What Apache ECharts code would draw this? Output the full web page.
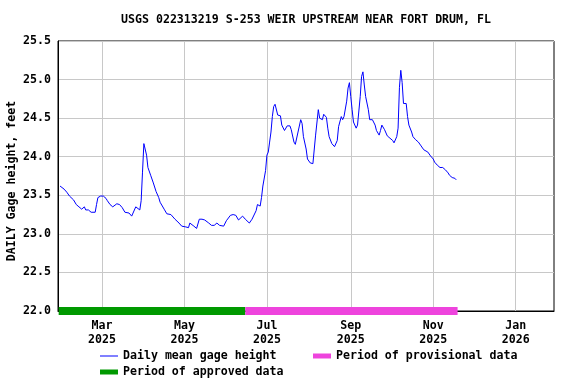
<!DOCTYPE html>
<html><head><meta charset="utf-8">
<script src="https://cdn.jsdelivr.net/npm/echarts@6/dist/echarts.min.js"></script>
<style>html,body{margin:0;padding:0;background:#fff}#c{width:576px;height:384px}</style>
</head><body><div id="c"></div>
<script>
const titleText = 'USGS 022313219 S-253 WEIR UPSTREAM NEAR FORT DRUM, FL';
const yAxisName = 'DAILY Gage height, feet';
const dates = ['2025-01-29','2025-02-01','2025-02-03','2025-02-05','2025-02-08','2025-02-10','2025-02-12','2025-02-14','2025-02-16','2025-02-17','2025-02-19','2025-02-21','2025-02-24','2025-02-25','2025-02-26','2025-02-28',
'2025-03-02','2025-03-04','2025-03-05','2025-03-07','2025-03-09','2025-03-12','2025-03-14','2025-03-16','2025-03-18','2025-03-21','2025-03-23','2025-03-26','2025-03-27','2025-03-29','2025-03-30','2025-03-31',
'2025-04-01','2025-04-02','2025-04-03','2025-04-04','2025-04-06','2025-04-08','2025-04-10','2025-04-12','2025-04-13','2025-04-16','2025-04-18','2025-04-21','2025-04-22','2025-04-24','2025-04-27','2025-04-29',
'2025-05-02','2025-05-04','2025-05-05','2025-05-08','2025-05-10','2025-05-12','2025-05-14','2025-05-16','2025-05-19','2025-05-21','2025-05-23','2025-05-25','2025-05-27','2025-05-30',
'2025-06-01','2025-06-04','2025-06-06','2025-06-08','2025-06-10','2025-06-13','2025-06-15','2025-06-18','2025-06-20','2025-06-23','2025-06-24','2025-06-26','2025-06-27','2025-06-28','2025-06-30',
'2025-07-01','2025-07-02','2025-07-03','2025-07-04','2025-07-05','2025-07-06','2025-07-07','2025-07-09','2025-07-11','2025-07-12','2025-07-14','2025-07-16','2025-07-18','2025-07-19','2025-07-21','2025-07-22','2025-07-24','2025-07-26','2025-07-27','2025-07-28','2025-07-30','2025-07-31',
'2025-08-02','2025-08-04','2025-08-05','2025-08-06','2025-08-08','2025-08-09','2025-08-11','2025-08-12','2025-08-14','2025-08-15','2025-08-16','2025-08-18','2025-08-20','2025-08-22','2025-08-23','2025-08-25','2025-08-26','2025-08-27','2025-08-29','2025-08-30','2025-08-31',
'2025-09-01','2025-09-02','2025-09-03','2025-09-05','2025-09-06','2025-09-07','2025-09-08','2025-09-09','2025-09-10','2025-09-11','2025-09-12','2025-09-14','2025-09-15','2025-09-17','2025-09-19','2025-09-20','2025-09-22','2025-09-23','2025-09-24','2025-09-26','2025-09-28','2025-09-30',
'2025-10-02','2025-10-03','2025-10-05','2025-10-06','2025-10-07','2025-10-08','2025-10-09','2025-10-10','2025-10-12','2025-10-13','2025-10-14','2025-10-16','2025-10-17','2025-10-19','2025-10-21','2025-10-23','2025-10-25','2025-10-26','2025-10-28','2025-10-30',
'2025-11-01','2025-11-02','2025-11-04','2025-11-06','2025-11-08','2025-11-10','2025-11-12','2025-11-13','2025-11-15','2025-11-17','2025-11-18'];
const heights = [23.62,23.58,23.54,23.49,23.44,23.38,23.35,23.32,23.35,23.31,23.31,23.28,23.28,23.38,23.47,23.49,
23.49,23.46,23.43,23.38,23.35,23.39,23.38,23.34,23.28,23.27,23.23,23.35,23.34,23.31,23.43,23.80,
24.17,24.15,24.02,23.86,23.76,23.66,23.55,23.47,23.41,23.32,23.26,23.25,23.23,23.19,23.14,23.10,
23.09,23.08,23.14,23.10,23.07,23.19,23.19,23.18,23.14,23.11,23.11,23.14,23.11,23.10,
23.17,23.24,23.25,23.24,23.18,23.23,23.19,23.14,23.19,23.30,23.38,23.36,23.47,23.62,23.82,
24.02,24.06,24.19,24.32,24.52,24.65,24.68,24.54,24.53,24.41,24.34,24.40,24.40,24.35,24.19,24.16,24.32,24.48,24.43,24.26,24.10,23.97,
23.92,23.91,23.91,24.28,24.61,24.50,24.48,24.55,24.51,24.37,24.26,24.17,24.13,24.21,24.39,24.52,24.48,24.52,24.72,24.89,24.96,
24.78,24.61,24.45,24.37,24.41,24.43,24.78,25.04,25.10,24.93,24.78,24.61,24.48,24.48,24.41,24.34,24.28,24.34,24.41,24.35,24.27,24.24,
24.21,24.18,24.26,24.37,24.90,25.12,24.96,24.69,24.69,24.52,24.41,24.32,24.26,24.22,24.19,24.14,24.09,24.07,24.06,24.01,
23.97,23.93,23.89,23.86,23.86,23.83,23.79,23.76,23.73,23.72,23.70];
const approvedPeriod = ['2025-01-28','2025-06-15'];
const provisionalPeriod = ['2025-06-15','2025-11-19'];
const periodLevel = 22.0;
const tickDates = ['2025-03-01','2025-05-01','2025-07-01','2025-09-01','2025-11-01','2026-01-01'];
const monthNames = ['Jan','Feb','Mar','Apr','May','Jun','Jul','Aug','Sep','Oct','Nov','Dec'];
const yMin = 22.0, yMax = 25.5, yStep = 0.5;

function ts(s){ const p = s.split('-').map(Number); return new Date(p[0], p[1]-1, p[2]).getTime(); }
const DAY = 86400000;
const xMin = ts('2025-03-01') - 32.5*DAY;
const xMax = ts('2026-01-01') + 28.3*DAY;
const FONT = 'DejaVu Sans Mono';
const txt = {color:'#000', fontFamily: FONT, fontWeight:'bold', fontSize: 11.6};
const tickTs = tickDates.map(ts);

const chart = echarts.init(document.getElementById('c'), null, {renderer:'canvas'});
chart.setOption({
  animation: false,
  backgroundColor: '#fff',
  title: {text: titleText, left: 306, top: 14, textAlign: 'center', padding: 0,
    textStyle: Object.assign({}, txt)},
  grid: {left: 58, right: 22, top: 41, bottom: 73, outerBoundsMode: 'none', containLabel: false,
    show: true, borderColor: '#000', borderWidth: 1, backgroundColor: 'transparent'},
  xAxis: {
    type: 'value', min: xMin, max: xMax, scale: true,
    axisLine: {show: true, onZero: false, lineStyle: {color: '#000', width: 1}},
    axisTick: {show: false, customValues: tickTs},
    axisLabel: Object.assign({}, txt, {customValues: tickTs, margin: 8, lineHeight: 14,
      formatter: v => { const d = new Date(v); return monthNames[d.getMonth()] + '\n' + d.getFullYear(); }}),
    splitLine: {show: true, lineStyle: {color: '#c8c8c8', width: 1}}
  },
  yAxis: {
    type: 'value', min: yMin, max: yMax, interval: yStep,
    name: yAxisName, nameLocation: 'middle', nameGap: 40, nameMoveOverlap: false,
    nameTextStyle: Object.assign({}, txt, {padding: [0, 10, 0, 0]}),
    axisLine: {show: true, lineStyle: {color: '#000', width: 1}},
    axisTick: {show: false},
    axisLabel: Object.assign({}, txt, {margin: 7, formatter: v => v.toFixed(1)}),
    splitLine: {show: true, lineStyle: {color: '#c8c8c8', width: 1}}
  },
  legend: [
    {left: 100, top: 350, padding: 0, itemWidth: 18, itemHeight: 1, textStyle: txt, data: [{name: 'Daily mean gage height', icon: 'rect'}], selectedMode: false},
    {left: 313, top: 350, padding: 0, itemWidth: 18, itemHeight: 5, textStyle: txt, data: [{name: 'Period of provisional data', icon: 'rect'}], selectedMode: false},
    {left: 100, top: 366, padding: 0, itemWidth: 18, itemHeight: 5, textStyle: txt, data: [{name: 'Period of approved data', icon: 'rect'}], selectedMode: false}
  ],
  series: [
    {name: 'Daily mean gage height', type: 'line', data: dates.map((d, i) => [ts(d), heights[i]]),
      symbol: 'none', showSymbol: false, color: '#0000ff', lineStyle: {color: '#0000ff', width: 1}, z: 4},
    {name: 'Period of approved data', type: 'line', data: approvedPeriod.map(d => [ts(d), periodLevel]),
      symbol: 'none', color: '#009900', lineStyle: {color: '#009900', width: 8, cap: 'butt'}, z: 2, clip: true},
    {name: 'Period of provisional data', type: 'line', data: provisionalPeriod.map(d => [ts(d), periodLevel]),
      symbol: 'none', color: '#ee44dd', lineStyle: {color: '#ee44dd', width: 8, cap: 'butt'}, z: 2, clip: true}
  ]
});
</script></body></html>
